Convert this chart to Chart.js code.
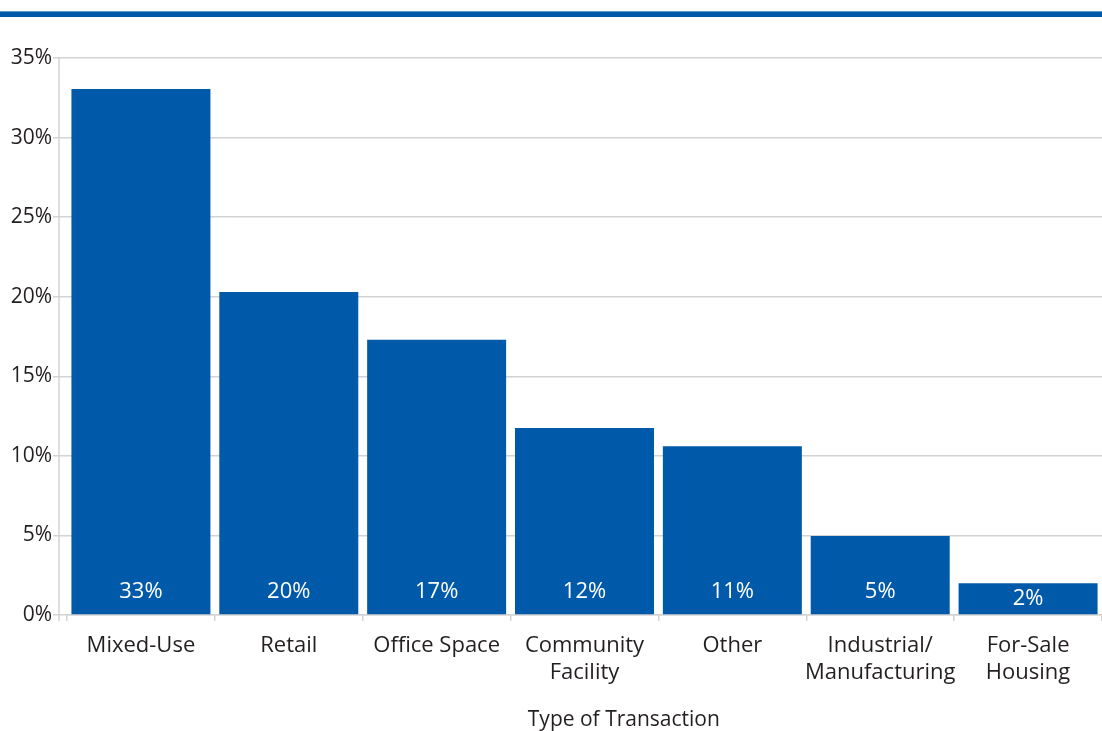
<!DOCTYPE html>
<html>
<head>
<meta charset="utf-8">
<style>
  html, body { margin: 0; padding: 0; background: #fff; }
  #wrap { position: relative; width: 1102px; height: 731px; }
  #topRule {
    position: absolute; left: 0; top: 11px; width: 1102px; height: 5px;
    background: #005aa9; border-top: 1px solid #5f97cc;
  }
  canvas { position: absolute; left: 0; top: 0; }
</style>
<script src="https://cdn.jsdelivr.net/npm/chart.js@4.4.1/dist/chart.umd.min.js"></script>
</head>
<body>
<div id="wrap">
  <canvas id="transactionChart" width="1102" height="731"></canvas>
  <div id="topRule"></div>
</div>
<script>
// Share of transactions by type (percent)
const categories = [
    'Mixed-Use',
    'Retail',
    ['Office Space'],
    ['Community', 'Facility'],
    'Other',
    ['Industrial/', 'Manufacturing'],
    ['For-Sale', 'Housing']
];
const shares = [33.05, 20.3, 17.3, 11.75, 10.6, 4.97, 2.0];
const shareLabels = ['33%', '20%', '17%', '12%', '11%', '5%', '2%'];
const yTicks = [0, 5, 10, 15, 20, 25, 30, 35];
const axisTitle = 'Type of Transaction';

const FONT = "'Open Sans', 'Noto Sans', sans-serif";
const TEXT = '#231f20';
const GRID = '#d3d3d3';
const BLUE = '#005aa9';

// white value labels inside each bar, plus the y axis line and axis title
const barLabels = {
    id: 'barLabels',
    afterDatasetsDraw(chart) {
        const ctx = chart.ctx;
        const meta = chart.getDatasetMeta(0);
        ctx.save();
        ctx.fillStyle = '#ffffff';
        ctx.font = `22px ${FONT}`;
        ctx.textAlign = 'center';
        ctx.textBaseline = 'middle';
        meta.data.forEach((bar, i) => {
            const base = bar.base;
            const y = Math.max(base - 23, (bar.y + base) / 2);
            ctx.fillText(shareLabels[i], bar.x, y);
        });
        ctx.restore();
    },
    afterDraw(chart) {
        const ctx = chart.ctx;
        const area = chart.chartArea;
        ctx.save();
        // y axis line sits a little left of the first bar slot
        ctx.strokeStyle = GRID;
        ctx.lineWidth = 1.5;
        ctx.beginPath();
        ctx.moveTo(area.left - 8, area.top);
        ctx.lineTo(area.left - 8, area.bottom + 6);
        ctx.stroke();
        // axis title
        ctx.fillStyle = TEXT;
        ctx.font = `21px ${FONT}`;
        ctx.textAlign = 'center';
        ctx.textBaseline = 'middle';
        ctx.fillText(axisTitle, area.left + (area.right - area.left) * 0.538, 720);
        ctx.restore();
    }
};

const ctx = document.getElementById('transactionChart');
new Chart(ctx, {
    type: 'bar',
    data: {
        labels: categories,
        datasets: [{
            data: shares,
            backgroundColor: BLUE,
            borderWidth: 0,
            categoryPercentage: 1.0,
            barPercentage: 0.94
        }]
    },
    options: {
        responsive: false,
        animation: false,
        layout: { padding: { top: 58, right: 0, bottom: 0, left: 0 } },
        plugins: {
            legend: { display: false },
            tooltip: { enabled: false }
        },
        scales: {
            x: {
                grid: {
                    display: true,
                    offset: true,
                    drawOnChartArea: false,
                    drawTicks: true,
                    tickLength: 6,
                    color: GRID,
                    lineWidth: 1.5
                },
                border: { display: true, color: GRID, width: 1.5 },
                ticks: {
                    color: TEXT,
                    font: { family: FONT, size: 22, lineHeight: 1.2 },
                    padding: 12,
                    maxRotation: 0,
                    autoSkip: false
                },
                afterFit(scale) { scale.height = 116; }
            },
            y: {
                min: 0,
                max: 35,
                afterBuildTicks(scale) {
                    scale.ticks = yTicks.map(v => ({ value: v }));
                },
                grid: {
                    color: GRID,
                    lineWidth: 1.5,
                    tickLength: 14
                },
                border: { display: false },
                ticks: {
                    color: TEXT,
                    font: { family: FONT, size: 21 },
                    padding: 1,
                    callback: v => v + '%'
                },
                afterFit(scale) { scale.width = 67; }
            }
        }
    },
    plugins: [barLabels]
});
</script>
</body>
</html>
